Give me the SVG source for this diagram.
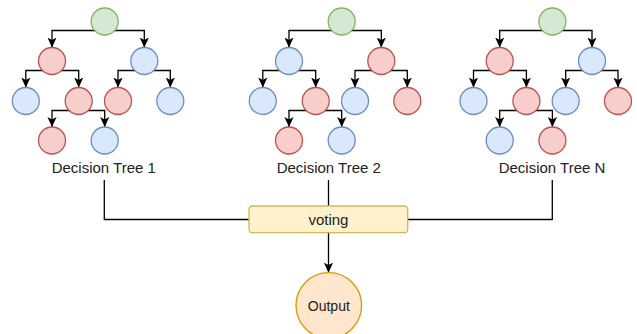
<svg xmlns="http://www.w3.org/2000/svg" width="637" height="334" viewBox="0 0 637 334">
  <defs>
    <marker id="arrow" markerUnits="userSpaceOnUse" markerWidth="10" markerHeight="10" refX="10" refY="5" orient="auto">
      <path d="M0,0.4 L10,5 L0,9.6 L2.4,5 z" fill="#000"/>
    </marker>
    <style>
      .edge { fill: none; stroke: #000; stroke-width: 1.3; }
      .arr { marker-end: url(#arrow); }
      .red { fill: #f8cecc; stroke: #b85450; stroke-width: 1.3; }
      .blue { fill: #dae8fc; stroke: #6c8ebf; stroke-width: 1.3; }
      .green { fill: #d5e8d4; stroke: #82b366; stroke-width: 1.3; }
      .vote { fill: #fff2cc; stroke: #d6b656; stroke-width: 1.3; }
      .out { fill: #ffe6cc; stroke: #d79b00; stroke-width: 1.3; }
      .lbl { font-family: "Liberation Sans", Arial, sans-serif; font-size: 15px; fill: #222; text-anchor: middle; }
    </style>
  </defs>

  <!-- connectors -->
  <g id="connectors">
    <!-- tree edges, same shape for each tree -->
    <g id="edges-tree1">
      <path class="edge arr" d="M104.7,30.5 H52 V47.5"/>
      <path class="edge arr" d="M104.7,30.5 H144.3 V47.5"/>
      <path class="edge arr" d="M52,70.5 H25.8 V87.5"/>
      <path class="edge arr" d="M52,70.5 H78.7 V87.5"/>
      <path class="edge arr" d="M144.3,70.5 H118 V87.5"/>
      <path class="edge arr" d="M144.3,70.5 H170.3 V87.5"/>
      <path class="edge arr" d="M78.7,110.5 H52 V127"/>
      <path class="edge arr" d="M78.7,110.5 H104.7 V127"/>
    </g>
    <g id="edges-tree2" transform="translate(237,0)">
      <path class="edge arr" d="M104.7,30.5 H52 V47.5"/>
      <path class="edge arr" d="M104.7,30.5 H144.3 V47.5"/>
      <path class="edge arr" d="M52,70.5 H25.8 V87.5"/>
      <path class="edge arr" d="M52,70.5 H78.7 V87.5"/>
      <path class="edge arr" d="M144.3,70.5 H118 V87.5"/>
      <path class="edge arr" d="M144.3,70.5 H170.3 V87.5"/>
      <path class="edge arr" d="M78.7,110.5 H52 V127"/>
      <path class="edge arr" d="M78.7,110.5 H104.7 V127"/>
    </g>
    <g id="edges-treeN" transform="translate(447.7,0)">
      <path class="edge arr" d="M104.7,30.5 H52 V47.5"/>
      <path class="edge arr" d="M104.7,30.5 H144.3 V47.5"/>
      <path class="edge arr" d="M52,70.5 H25.8 V87.5"/>
      <path class="edge arr" d="M52,70.5 H78.7 V87.5"/>
      <path class="edge arr" d="M144.3,70.5 H118 V87.5"/>
      <path class="edge arr" d="M144.3,70.5 H170.3 V87.5"/>
      <path class="edge arr" d="M78.7,110.5 H52 V127"/>
      <path class="edge arr" d="M78.7,110.5 H104.7 V127"/>
    </g>
    <!-- trees to voting -->
    <path class="edge" d="M104.3,180 V219.5 H249"/>
    <path class="edge" d="M328.5,180 V206"/>
    <path class="edge" d="M552.3,180 V219.5 H407.7"/>
    <!-- voting to output -->
    <path class="edge arr" d="M328.5,232.7 V272.7"/>
  </g>

  <!-- Decision Tree 1 -->
  <g id="tree1">
    <g id="t1-root"><circle class="green" cx="104.7" cy="21.5" r="13.5"/></g>
    <g id="t1-a"><circle class="red" cx="52" cy="61" r="13.5"/></g>
    <g id="t1-b"><circle class="blue" cx="144.3" cy="61" r="13.5"/></g>
    <g id="t1-c"><circle class="blue" cx="25.8" cy="101" r="13.5"/></g>
    <g id="t1-d"><circle class="red" cx="78.7" cy="101" r="13.5"/></g>
    <g id="t1-e"><circle class="red" cx="118" cy="101" r="13.5"/></g>
    <g id="t1-f"><circle class="blue" cx="170.3" cy="101" r="13.5"/></g>
    <g id="t1-g"><circle class="red" cx="52" cy="140.5" r="13.5"/></g>
    <g id="t1-h"><circle class="blue" cx="104.7" cy="140.5" r="13.5"/></g>
    <g id="t1-label"><text class="lbl" x="103.8" y="173.3">Decision Tree 1</text></g>
  </g>

  <!-- Decision Tree 2 -->
  <g id="tree2" transform="translate(237,0)">
    <g id="t2-root"><circle class="green" cx="104.7" cy="21.5" r="13.5"/></g>
    <g id="t2-a"><circle class="blue" cx="52" cy="61" r="13.5"/></g>
    <g id="t2-b"><circle class="red" cx="144.3" cy="61" r="13.5"/></g>
    <g id="t2-c"><circle class="blue" cx="25.8" cy="101" r="13.5"/></g>
    <g id="t2-d"><circle class="red" cx="78.7" cy="101" r="13.5"/></g>
    <g id="t2-e"><circle class="blue" cx="118" cy="101" r="13.5"/></g>
    <g id="t2-f"><circle class="red" cx="170.3" cy="101" r="13.5"/></g>
    <g id="t2-g"><circle class="red" cx="52" cy="140.5" r="13.5"/></g>
    <g id="t2-h"><circle class="blue" cx="104.7" cy="140.5" r="13.5"/></g>
    <g id="t2-label"><text class="lbl" x="91.8" y="173.3">Decision Tree 2</text></g>
  </g>

  <!-- Decision Tree N -->
  <g id="treeN" transform="translate(447.7,0)">
    <g id="tN-root"><circle class="green" cx="104.7" cy="21.5" r="13.5"/></g>
    <g id="tN-a"><circle class="red" cx="52" cy="61" r="13.5"/></g>
    <g id="tN-b"><circle class="blue" cx="144.3" cy="61" r="13.5"/></g>
    <g id="tN-c"><circle class="blue" cx="25.8" cy="101" r="13.5"/></g>
    <g id="tN-d"><circle class="red" cx="78.7" cy="101" r="13.5"/></g>
    <g id="tN-e"><circle class="blue" cx="118" cy="101" r="13.5"/></g>
    <g id="tN-f"><circle class="red" cx="170.3" cy="101" r="13.5"/></g>
    <g id="tN-g"><circle class="blue" cx="52" cy="140.5" r="13.5"/></g>
    <g id="tN-h"><circle class="red" cx="104.7" cy="140.5" r="13.5"/></g>
    <g id="tN-label"><text class="lbl" x="104.3" y="173.3">Decision Tree N</text></g>
  </g>

  <!-- voting -->
  <g id="voting">
    <rect class="vote" x="249" y="206" width="158.7" height="26.7" rx="3.5" ry="3.5"/>
    <text class="lbl" x="328.4" y="224.7">voting</text>
  </g>

  <!-- output -->
  <g id="output">
    <circle class="out" cx="328.8" cy="305.5" r="32.8"/>
    <text class="lbl" x="328.8" y="310.5" style="font-size:14px">Output</text>
  </g>
</svg>
